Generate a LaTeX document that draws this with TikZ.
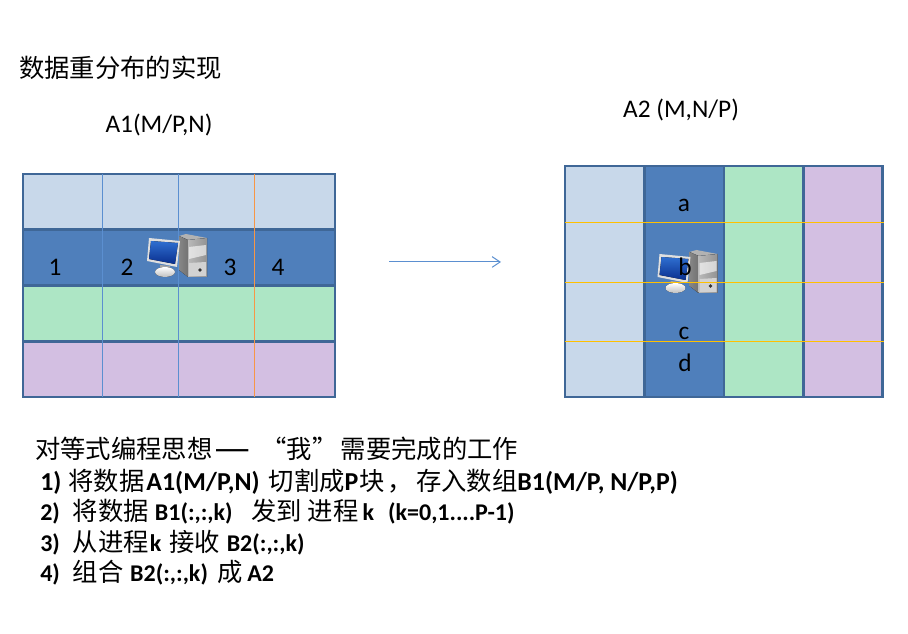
\documentclass[tikz,border=0pt]{standalone}
\usepackage{fontspec}
\setmainfont{Carlito}
\newfontfamily\cjk{Noto Sans CJK SC}
\usetikzlibrary{arrows.meta,positioning}

\definecolor{edgeblue}{HTML}{3F6797}
\definecolor{paleblue}{HTML}{C8D8EA}
\definecolor{midblue}{HTML}{4F7FBB}
\definecolor{palegreen}{HTML}{ADE6C5}
\definecolor{palepurple}{HTML}{D3BFE2}
\definecolor{cutblue}{HTML}{5B8FD0}
\definecolor{cutorange}{HTML}{F79646}
\definecolor{cutyellow}{HTML}{FFC000}
\definecolor{screenhi}{HTML}{2F6FD0}
\definecolor{screenlo}{HTML}{0A2F8F}
\newcommand{\zh}[1]{{\fontsize{19}{22}\selectfont\cjk\mdseries #1}}
\newcommand{\gap}[1]{\hspace*{#1pt}}

\begin{document}
\begin{tikzpicture}[
x=0.75pt, y=-0.75pt,
rowcell/.style={rectangle, draw=edgeblue, line width=2.1pt, outer sep=0pt, minimum width=234pt, minimum height=41.8pt},
colcell/.style={rectangle, draw=edgeblue, line width=2.1pt, outer sep=0pt, minimum width=59.6pt, minimum height=173.3pt},
cell/.style={font=\fontsize{19}{22}\selectfont, inner sep=0pt, anchor=base},
head/.style={font=\fontsize{19}{22}\selectfont, inner sep=0pt, anchor=base west},
task/.style={font=\fontsize{18}{22}\selectfont\bfseries, inner sep=0pt, anchor=base west},
bigtask/.style={font=\fontsize{19.4}{22}\selectfont\bfseries, inner sep=0pt, anchor=base west},
computer/.pic={
  %tower
  \fill[gray!60] (33,3) -- (40,1) -- (61,5) -- (42,7) -- cycle;
  \fill[left color=gray!95, right color=black!55] (33,3) -- (42,7) -- (42,44) -- (33,37) -- cycle;
  \fill[left color=gray!55, right color=gray!85] (42,7) -- (61,5) -- (61,44) -- (42,44) -- cycle;
  \fill[white, opacity=.6] (43,14) -- (60,12) -- (60,22) -- (43,26) -- cycle;
  \fill[gray!35] (43,30) -- (60,29) -- (60,43) -- (43,43) -- cycle;
  \fill[black!80] (54,37) circle (1.8);
  %monitor
  \fill[gray!70] (14,32) -- (24,33) -- (24,38) -- (14,38) -- cycle;
  \fill[top color=white, bottom color=gray!50] (19,39) ellipse [x radius=10, y radius=5];
  \fill[gray!25] (3,5) -- (34,8) -- (31,34) -- (1,28) -- cycle;
  \fill[top color=screenhi, bottom color=screenlo] (5,8) -- (32,10) -- (29,31) -- (3,26) -- cycle;
},
]
\useasboundingbox (0,0) rectangle (908,634);

%Nodes
\node[head] (title) at (19,78) {\zh{数据重分布的实现}};
\node[cell] (nameA) at (159,133) {A1(M/P,N)};
\node[cell] (nameB) at (681,118) {A2 (M,N/P)};

\node[rowcell, fill=paleblue, anchor=north west] (rowa) at (23,174) {};
\node[rowcell, fill=midblue]    (rowb) [below=0pt of rowa] {};
\node[rowcell, fill=palegreen]  (rowc) [below=0pt of rowb] {};
\node[rowcell, fill=palepurple] (rowd) [below=0pt of rowc] {};

\node[colcell, fill=paleblue, anchor=north west] (cola) at (565,166) {};
\node[colcell, fill=midblue]    (colb) [right=0pt of cola] {};
\node[colcell, fill=palegreen]  (colc) [right=0pt of colb] {};
\node[colcell, fill=palepurple] (cold) [right=0pt of colc] {};

\coordinate (cut1t) at (102,174);
\coordinate (cut1b) at (102,397);
\coordinate (cut2t) at (178,174);
\coordinate (cut2b) at (178,397);
\coordinate (cut3t) at (254,174);
\coordinate (cut3b) at (254,397);
\coordinate (cutal) at (565,222.5);
\coordinate (cutar) at (884,222.5);
\coordinate (cutbl) at (565,282.5);
\coordinate (cutbr) at (884,282.5);
\coordinate (cutcl) at (565,341.5);
\coordinate (cutcr) at (884,341.5);
\coordinate (sendL) at (389,262);
\coordinate (sendR) at (501,262);

%Lines
\draw[cutblue, line width=.75pt] (cut1t) -- (cut1b);
\draw[cutblue, line width=.75pt] (cut2t) -- (cut2b);
\draw[cutorange, line width=.75pt] (cut3t) -- (cut3b);
\draw[-{Straight Barb[length=6pt,width=8pt]}, cutblue, line width=.75pt] (sendL) -- (sendR);

\pic at (146,233) {computer};
\pic at (656.5,249) {computer};

\draw[cutyellow, line width=.75pt] (cutal) -- (cutar);
\draw[cutyellow, line width=.75pt] (cutbl) -- (cutbr);
\draw[cutyellow, line width=.75pt] (cutcl) -- (cutcr);

%Labels
\node[cell] (n1) at (55,276) {1};
\node[cell] (n2) at (127,276) {2};
\node[cell] (n3) at (230,276) {3};
\node[cell] (n4) at (278,276) {4};
\node[cell] (la) at (684,212) {a};
\node[cell] (lb) at (685,276) {b};
\node[cell] (lc) at (684,340) {c};
\node[cell] (ld) at (685,372) {d};

%Text
\node[head] (think) at (35,459) {\zh{对等式编程思想}\gap{2}\raisebox{2pt}{\fontsize{15}{16}\selectfont\cjk\bfseries ——}\gap{9}\zh{“我”}\gap{2.5}\zh{需要完成的工作}};
\node[bigtask] (job1) at (40,491) {1)\gap{5.25}\zh{将数据}\gap{1.5}A1(M/P,N)\gap{6.75}\zh{切割成}P\gap{.75}\zh{块}\gap{2.25}\zh{，}\gap{2.25}\zh{存入数组}B1(M/P, N/P,P)};
\node[task] (job2) at (40,521) {2)\gap{9.75}\zh{将数据}\gap{4.5}B1(:,:,k)\gap{14}\zh{发到}\gap{4.5}\zh{进程}\gap{3}k\gap{10.5}(k=0,1....P-1)};
\node[task] (job3) at (40,552) {3)\gap{9.75}\zh{从进程}\gap{.75}k\gap{6}\zh{接收}\gap{5}B2(:,:,k)};
\node[task] (job4) at (40,582) {4)\gap{9.75}\zh{组合}\gap{5}B2(:,:,k)\gap{7}\zh{成}\gap{3.5}A2};
\end{tikzpicture}
\end{document}
